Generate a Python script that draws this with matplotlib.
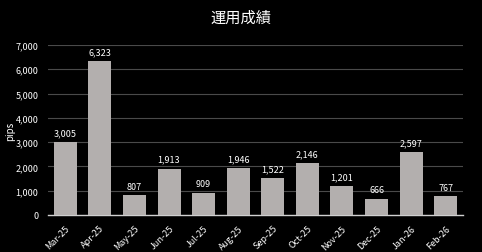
import matplotlib
matplotlib.use("Agg")
import matplotlib.pyplot as plt
from matplotlib.ticker import FuncFormatter

months = ["Mar-25", "Apr-25", "May-25", "Jun-25", "Jul-25", "Aug-25",
          "Sep-25", "Oct-25", "Nov-25", "Dec-25", "Jan-26", "Feb-26"]
pips = [3005, 6323, 807, 1913, 909, 1946, 1522, 2146, 1201, 666, 2597, 767]
yticks = [0, 1000, 2000, 3000, 4000, 5000, 6000, 7000]
title = "運用成績"
ylabel = "pips"

plt.rcParams['font.family'] = ['Noto Sans CJK JP', 'DejaVu Sans']

fig = plt.figure(figsize=(4.82, 2.53), dpi=100, facecolor="black")
ax = fig.add_axes([48/482, 1-216/253, (463-48)/482, (216-46)/253], facecolor="black")

x = range(len(months))
bars = ax.bar(x, pips, width=0.665, color="#B3AFAE", zorder=3)
for xi, v in zip(x, pips):
    ax.text(xi, v + 200, f"{v:,}", ha="center", va="bottom", color="white", fontsize=6.5)

ax.set_ylim(0, 7000)
ax.set_xlim(-0.5, len(months) - 0.5)
ax.set_yticks(yticks)
ax.yaxis.set_major_formatter(FuncFormatter(lambda v, p: f"{int(v):,}"))
ax.set_xticks(list(x))
ax.set_xticklabels(months, rotation=45, ha="right", rotation_mode="anchor")
ax.tick_params(axis="both", colors="white", labelsize=6.5, length=0)
ax.tick_params(axis="x", pad=6)
ax.tick_params(axis="y", pad=7)
ax.grid(axis="y", color="#4a4a4a", linewidth=0.8, zorder=0)
for s in ["top", "right", "left"]:
    ax.spines[s].set_visible(False)
ax.spines["bottom"].set_color("#d0d0d0")
ax.spines["bottom"].set_linewidth(1.0)
ax.set_ylabel(ylabel, color="white", fontsize=7)
ax.yaxis.set_label_coords(-33/415, 0.5)
fig.text(0.5, 1-18/253, title, ha="center", va="center", color="white", fontsize=11)

fig.savefig("out.png", dpi=100, facecolor="black")
